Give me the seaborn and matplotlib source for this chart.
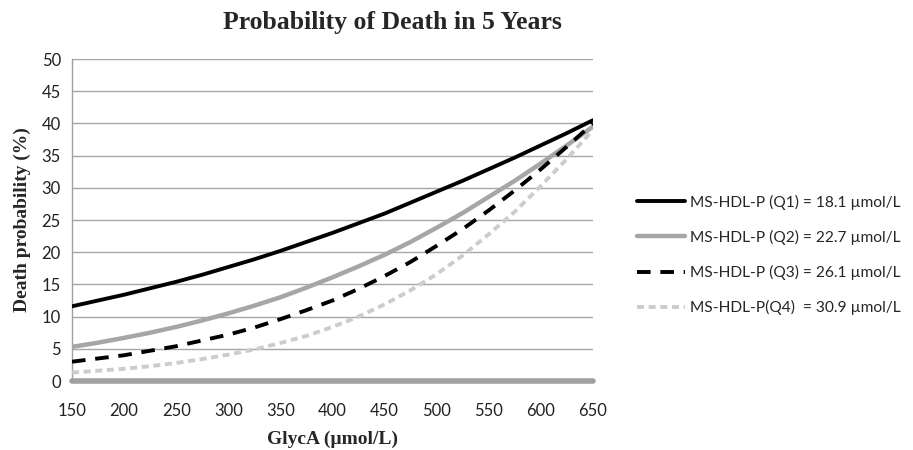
import matplotlib
matplotlib.use("Agg")
import matplotlib.pyplot as plt
import seaborn as sns
import pandas as pd
from matplotlib.lines import Line2D

glyca = [150, 175, 200, 225, 250, 275, 300, 325, 350, 375, 400, 425, 450,
         475, 500, 525, 550, 575, 600, 625, 650]
q1 = [11.6, 12.5, 13.4, 14.4, 15.4, 16.5, 17.7, 18.9, 20.2, 21.6, 23.0, 24.5,
      26.0, 27.7, 29.4, 31.1, 32.9, 34.7, 36.6, 38.5, 40.5]
q2 = [5.3, 5.95, 6.7, 7.5, 8.4, 9.4, 10.5, 11.7, 13.0, 14.5, 16.1, 17.8,
      19.6, 21.6, 23.8, 26.1, 28.6, 31.1, 33.8, 36.6, 39.5]
q3 = [3.0, 3.5, 4.0, 4.7, 5.4, 6.3, 7.2, 8.3, 9.6, 11.0, 12.5, 14.3,
      16.3, 18.5, 21.0, 23.6, 26.5, 29.6, 32.9, 36.4, 40.0]
q4 = [1.3, 1.6, 1.9, 2.3, 2.8, 3.4, 4.1, 4.9, 5.9, 7.0, 8.4, 10.0,
      11.9, 14.1, 16.6, 19.5, 22.8, 26.3, 30.3, 34.5, 39.0]
labels = ["MS-HDL-P (Q1) = 18.1 \u00b5mol/L",
          "MS-HDL-P (Q2) = 22.7 \u00b5mol/L",
          "MS-HDL-P (Q3) = 26.1 \u00b5mol/L",
          "MS-HDL-P(Q4)  = 30.9 \u00b5mol/L"]
xticks = [150, 200, 250, 300, 350, 400, 450, 500, 550, 600, 650]
yticks = [0, 5, 10, 15, 20, 25, 30, 35, 40, 45, 50]

sns.set_theme(style="white")
plt.rcParams['font.family'] = ['Lato', 'DejaVu Sans']

fig = plt.figure(figsize=(9.13, 4.5), dpi=100)
ax = fig.add_axes([72/913, 1-381/450, (593-72)/913, (381-59)/450])

styles = [
    dict(color="#000000", lw=2.8, ls="-"),
    dict(color="#a6a6a6", lw=3.2, ls="-"),
    dict(color="#000000", lw=2.8, ls=(0, (3.5, 2.5))),
    dict(color="#cccccc", lw=2.8, ls=(0, (1.8, 1.2))),
]
series = [q1, q2, q3, q4]

for yv in yticks[1:]:
    ax.axhline(yv, color="#a6a6a6", lw=1.0, zorder=1)

handles = []
for s, lab, st in zip(series, labels, styles):
    df = pd.DataFrame({"x": glyca, "y": s})
    sns.lineplot(data=df, x="x", y="y", ax=ax, color=st["color"],
                 linewidth=st["lw"], linestyle=st["ls"], zorder=3)
    handles.append(Line2D([0], [0], color=st["color"], lw=st["lw"], ls=st["ls"]))

ax.axhline(0, color="#a0a0a0", lw=4.0, zorder=2, clip_on=False)

ax.set_xlim(150, 650)
ax.set_ylim(0, 50)
ax.set_xticks(xticks)
ax.set_yticks(yticks)
ax.tick_params(axis="both", length=0, labelsize=12, colors="#222222")
ax.tick_params(axis="x", pad=16)
ax.tick_params(axis="y", pad=8)
for sp in ["top", "right", "bottom"]:
    ax.spines[sp].set_visible(False)
ax.spines["left"].set_color("#a0a0a0")
ax.spines["left"].set_linewidth(1.0)

serif = dict(family=["Liberation Serif", "DejaVu Serif"], weight="bold")
ax.set_xlabel("GlycA (\u00b5mol/L)", fontsize=14, labelpad=8, fontdict=serif)
ax.set_ylabel("Death probability (%)", fontsize=14, labelpad=8, fontdict=serif)
fig.text(392/913, 1-22/450, "Probability of Death in 5 Years", ha="center",
         va="center", fontsize=18.5, **serif)

ax.legend(handles, labels, loc="center left", bbox_to_anchor=(623/913, 1-255/450),
          bbox_transform=fig.transFigure, frameon=False, fontsize=11.2,
          handlelength=3.1, handletextpad=0.3, labelspacing=1.3)

fig.savefig("out.png", dpi=100)
